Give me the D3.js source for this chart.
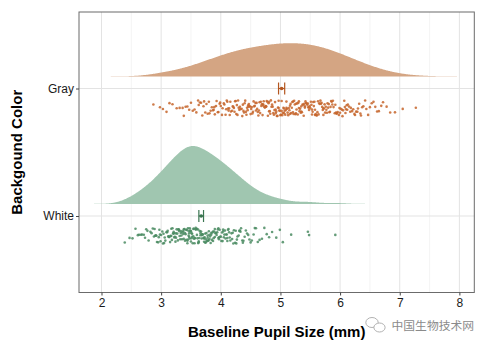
<!DOCTYPE html>
<html>
<head>
<meta charset="utf-8">
<script src="https://cdn.jsdelivr.net/npm/d3@7"></script>
<style>
  html, body { margin: 0; padding: 0; background: #ffffff; }
  svg { display: block; }
  text { font-family: "Liberation Sans", Arial, Helvetica, sans-serif; }
</style>
</head>
<body>
<svg id="chart" width="490" height="348"></svg>
<script>
// Groups shown on the y axis (bottom to top)
const categories = ["White", "Gray"];

// Baseline pupil size (mm), one value per participant
const grayValues = [
  2.87,
  2.98, 3.03, 3.09,
  3.14, 3.19, 3.26, 3.31, 3.36,
  3.38, 3.41, 3.44, 3.47, 3.50, 3.53, 3.56, 3.59, 3.62,
  3.63, 3.65, 3.67, 3.69, 3.71, 3.72, 3.74, 3.76, 3.78, 3.80, 3.81, 3.83, 3.85, 3.87,
  3.88, 3.89, 3.90, 3.92, 3.93, 3.95, 3.96, 3.98, 3.99, 4.00, 4.02, 4.03, 4.05, 4.06, 4.08, 4.09, 4.10, 4.11, 4.12,
  4.13, 4.14, 4.15, 4.16, 4.17, 4.19, 4.20, 4.21, 4.22, 4.23, 4.24, 4.25, 4.26, 4.27, 4.28, 4.29, 4.30, 4.31, 4.32, 4.33, 4.35, 4.36, 4.37,
  4.38, 4.39, 4.40, 4.41, 4.42, 4.43, 4.44, 4.45, 4.46, 4.47, 4.48, 4.49, 4.50, 4.51, 4.52, 4.53, 4.54, 4.55, 4.56, 4.57, 4.58, 4.59, 4.60, 4.61, 4.62, 4.46,
  4.63, 4.64, 4.65, 4.66, 4.67, 4.68, 4.69, 4.70, 4.71, 4.72, 4.73, 4.74, 4.75, 4.76, 4.77, 4.78, 4.79, 4.80, 4.81, 4.82, 4.83, 4.84, 4.85, 4.86, 4.87, 4.71, 4.76, 4.81,
  4.88, 4.89, 4.90, 4.91, 4.92, 4.93, 4.94, 4.95, 4.96, 4.97, 4.98, 4.99, 5.00, 5.01, 5.02, 5.03, 5.04, 5.05, 5.06, 5.07, 5.08, 5.09, 5.10, 5.11, 5.12, 4.92, 4.97, 5.02, 5.06, 5.10,
  5.13, 5.14, 5.15, 5.16, 5.17, 5.18, 5.19, 5.20, 5.21, 5.22, 5.23, 5.24, 5.25, 5.26, 5.27, 5.28, 5.29, 5.30, 5.31, 5.32, 5.33, 5.34, 5.35, 5.36, 5.37, 5.16, 5.21, 5.26, 5.31, 5.35,
  5.38, 5.39, 5.40, 5.41, 5.42, 5.43, 5.44, 5.45, 5.46, 5.47, 5.48, 5.49, 5.50, 5.51, 5.52, 5.53, 5.54, 5.55, 5.56, 5.57, 5.58, 5.59, 5.60, 5.61, 5.62, 5.41, 5.47, 5.53, 5.58,
  5.63, 5.64, 5.65, 5.66, 5.67, 5.68, 5.69, 5.70, 5.71, 5.72, 5.73, 5.74, 5.75, 5.76, 5.77, 5.78, 5.79, 5.80, 5.81, 5.82, 5.83, 5.84, 5.85, 5.86, 5.87, 5.72,
  5.88, 5.89, 5.91, 5.92, 5.93, 5.95, 5.96, 5.98, 5.99, 6.00, 6.01, 6.03, 6.04, 6.05, 6.07, 6.08, 6.09, 6.10, 6.11, 6.12, 5.94,
  6.13, 6.15, 6.17, 6.18, 6.20, 6.22, 6.24, 6.25, 6.27, 6.29, 6.30, 6.32, 6.34, 6.35, 6.37,
  6.39, 6.42, 6.44, 6.47, 6.50, 6.53, 6.56, 6.59, 6.62,
  6.65, 6.69, 6.72, 6.78, 6.84,
  6.92, 7.05,
  7.27
];

const whiteValues = [
  2.39, 2.47, 2.52, 2.57, 2.61,
  2.63, 2.66, 2.68, 2.71, 2.73, 2.75, 2.77, 2.79, 2.82, 2.84, 2.86,
  2.88, 2.89, 2.90, 2.91, 2.92, 2.93, 2.95, 2.96, 2.97, 2.98, 2.99, 3.00, 3.02, 3.03, 3.04, 3.05, 3.06, 3.07, 3.09, 3.10, 3.11, 3.12,
  3.13, 3.13, 3.14, 3.15, 3.16, 3.17, 3.17, 3.18, 3.19, 3.20, 3.21, 3.21, 3.22, 3.23, 3.24, 3.25, 3.25, 3.26, 3.27, 3.28, 3.29, 3.29, 3.30, 3.31, 3.32, 3.33, 3.33, 3.34, 3.35, 3.36, 3.37, 3.37, 3.22, 3.30,
  3.38, 3.38, 3.39, 3.40, 3.40, 3.41, 3.42, 3.42, 3.43, 3.44, 3.44, 3.45, 3.46, 3.46, 3.47, 3.48, 3.48, 3.49, 3.50, 3.50, 3.51, 3.52, 3.52, 3.53, 3.54, 3.54, 3.55, 3.56, 3.56, 3.57, 3.58, 3.58, 3.59, 3.60, 3.60, 3.61, 3.62, 3.62, 3.45, 3.49, 3.51, 3.55, 3.47,
  3.63, 3.63, 3.64, 3.65, 3.66, 3.66, 3.67, 3.68, 3.69, 3.69, 3.70, 3.71, 3.72, 3.72, 3.73, 3.74, 3.75, 3.75, 3.76, 3.77, 3.78, 3.78, 3.79, 3.80, 3.81, 3.81, 3.82, 3.83, 3.84, 3.84, 3.85, 3.86, 3.87, 3.87, 3.68, 3.74, 3.79,
  3.88, 3.89, 3.90, 3.90, 3.91, 3.92, 3.93, 3.94, 3.95, 3.96, 3.97, 3.97, 3.98, 3.99, 4.00, 4.01, 4.02, 4.03, 4.04, 4.04, 4.05, 4.06, 4.07, 4.08, 4.09, 4.10, 4.11, 4.11, 4.12, 3.96,
  4.13, 4.14, 4.15, 4.16, 4.18, 4.19, 4.20, 4.21, 4.22, 4.24, 4.25, 4.26, 4.27, 4.28, 4.30, 4.31, 4.32, 4.33, 4.34, 4.36, 4.37,
  4.38, 4.40, 4.42, 4.44, 4.46, 4.48, 4.50, 4.52, 4.55, 4.57, 4.59, 4.62,
  4.65, 4.69, 4.73, 4.77, 4.81, 4.86,
  4.93, 4.99, 5.04,
  5.18,
  5.46, 5.48,
  5.92
];

const xTicks = [2, 3, 4, 5, 6, 7, 8];
const xTitle = "Baseline Pupil Size (mm)";
const yTitle = "Backgound Color";

// Per-group colours: density fill, points, mean marker
const palette = {
  Gray:  { fill: "#d4a583", point: "#c5652c", mean: "#b4561f" },
  White: { fill: "#a0c6b0", point: "#4a8b62", mean: "#3a7550" }
};

const groups = [
  { name: "Gray", values: grayValues, level: 2 },
  { name: "White", values: whiteValues, level: 1 }
];

// ---- layout ----
const svg = d3.select("#chart");
const panel = { left: 79, right: 474.3, top: 12, bottom: 292.5 };

const x = d3.scaleLinear().domain([1.623, 8.25]).range([panel.left, panel.right]);
const y = d3.scaleLinear().domain([0.4, 2.6]).range([panel.bottom, panel.top]);

const densityLift = 0.095;   // gap between category line and density baseline
const densityUnits = 0.655;  // category units per unit of density
const jitterCenter = -0.155; // points sit below the category line
const jitterHalf = 0.062;

// Gaussian KDE with R's nrd0 bandwidth, evaluated over [min - 3bw, max + 3bw]
function nrd0(v) {
  const s = d3.deviation(v);
  const sorted = v.slice().sort(d3.ascending);
  const iqr = d3.quantileSorted(sorted, 0.75) - d3.quantileSorted(sorted, 0.25);
  let lo = Math.min(s, iqr / 1.34);
  if (!(lo > 0)) lo = s || Math.abs(v[0]) || 1;
  return 0.9 * lo * Math.pow(v.length, -0.2);
}
function kde(v) {
  const bw = nrd0(v);
  const lo = d3.min(v) - 3 * bw, hi = d3.max(v) + 3 * bw;
  const n = 512, c = 1 / (v.length * bw * Math.sqrt(2 * Math.PI));
  const out = [];
  for (let i = 0; i < n; i++) {
    const t = lo + (hi - lo) * i / (n - 1);
    let s = 0;
    for (const xi of v) { const z = (t - xi) / bw; s += Math.exp(-0.5 * z * z); }
    out.push([t, s * c]);
  }
  return out;
}

// Deterministic scatter used to spread points vertically
function spread(i, salt) {
  const s = Math.sin((i + 1) * 12.9898 + salt * 78.233) * 43758.5453;
  return s - Math.floor(s);
}

// ---- grid ----
const grid = svg.append("g");
const minorX = d3.range(2.5, 8, 1);
grid.selectAll("line.minor").data(minorX).join("line")
  .attr("x1", d => x(d)).attr("x2", d => x(d))
  .attr("y1", panel.top).attr("y2", panel.bottom)
  .attr("stroke", "#ececec").attr("stroke-width", 0.6);
grid.selectAll("line.majorx").data(xTicks).join("line")
  .attr("x1", d => x(d)).attr("x2", d => x(d))
  .attr("y1", panel.top).attr("y2", panel.bottom)
  .attr("stroke", "#e3e3e3").attr("stroke-width", 1);
grid.selectAll("line.majory").data([1, 2]).join("line")
  .attr("x1", panel.left).attr("x2", panel.right)
  .attr("y1", d => y(d)).attr("y2", d => y(d))
  .attr("stroke", "#e3e3e3").attr("stroke-width", 1);

// ---- densities ----
const area = d3.area().curve(d3.curveLinear);

groups.forEach(g => {
  const dens = kde(g.values);
  area.x(d => x(d[0]))
    .y0(() => y(g.level + densityLift))
    .y1(d => y(g.level + densityLift + d[1] * densityUnits));
  svg.append("path")
    .datum(dens)
    .attr("d", area)
    .attr("fill", palette[g.name].fill);
});

// ---- points ----
groups.forEach((g, gi) => {
  svg.append("g").selectAll("circle").data(g.values).join("circle")
    .attr("cx", d => x(d))
    .attr("cy", (d, i) => y(g.level + jitterCenter + (spread(i, gi + 1) * 2 - 1) * jitterHalf))
    .attr("r", 1.3)
    .attr("fill", palette[g.name].point)
    .attr("fill-opacity", 0.85);
});

// ---- mean ± standard error ----
groups.forEach(g => {
  const m = d3.mean(g.values);
  const se = d3.deviation(g.values) / Math.sqrt(g.values.length);
  const cy = y(g.level);
  const col = palette[g.name].mean;
  const mk = svg.append("g").attr("stroke", col).attr("stroke-width", 1.2);
  mk.append("line").attr("x1", x(m - se)).attr("x2", x(m + se)).attr("y1", cy).attr("y2", cy);
  [m - se, m + se].forEach(v => {
    mk.append("line").attr("x1", x(v)).attr("x2", x(v)).attr("y1", cy - 6).attr("y2", cy + 6);
  });
  svg.append("circle").attr("cx", x(m)).attr("cy", cy).attr("r", 1.8).attr("fill", col);
});

// ---- panel border ----
svg.append("rect")
  .attr("x", panel.left).attr("y", panel.top)
  .attr("width", panel.right - panel.left).attr("height", panel.bottom - panel.top)
  .attr("fill", "none").attr("stroke", "#6b6b6b").attr("stroke-width", 1);

// ---- axes ----
const xAxis = svg.append("g")
  .attr("transform", `translate(0,${panel.bottom})`)
  .call(d3.axisBottom(x).tickValues(xTicks).tickFormat(d3.format("d")).tickSize(3).tickPadding(3));
xAxis.select(".domain").remove();
xAxis.selectAll(".tick line").attr("stroke", "#444");
xAxis.selectAll(".tick text").attr("fill", "#1a1a1a").style("font-size", "12px");

const yAxis = svg.append("g")
  .attr("transform", `translate(${panel.left},0)`)
  .call(d3.axisLeft(y).tickValues([1, 2]).tickFormat(d => categories[d - 1]).tickSize(3).tickPadding(2));
yAxis.select(".domain").remove();
yAxis.selectAll(".tick line").attr("stroke", "#444");
yAxis.selectAll(".tick text").attr("fill", "#1a1a1a").style("font-size", "12px");

// ---- titles ----
svg.append("text")
  .attr("x", (panel.left + panel.right) / 2).attr("y", 337)
  .attr("text-anchor", "middle")
  .style("font-size", "15px").style("font-weight", "bold").attr("fill", "#000")
  .text(xTitle);

svg.append("text")
  .attr("transform", `translate(21.5,${(panel.top + panel.bottom) / 2}) rotate(-90)`)
  .attr("text-anchor", "middle")
  .style("font-size", "15px").style("font-weight", "bold").attr("fill", "#000")
  .text(yTitle);

// ---- source mark ----
const mark = svg.append("g").attr("fill", "none").attr("stroke", "#a8a8a8").attr("stroke-width", 0.9);
mark.append("ellipse").attr("cx", 372).attr("cy", 322.5).attr("rx", 6.2).attr("ry", 5);
mark.append("ellipse").attr("cx", 379.5).attr("cy", 327.5).attr("rx", 5.6).attr("ry", 4.5).attr("fill", "#fff");
svg.append("text")
  .attr("x", 391.5).attr("y", 330)
  .style("font-family", "'Noto Sans CJK SC', sans-serif")
  .style("font-size", "11.8px").attr("fill", "#8a8a8a")
  .text("中国生物技术网");
</script>
</body>
</html>
